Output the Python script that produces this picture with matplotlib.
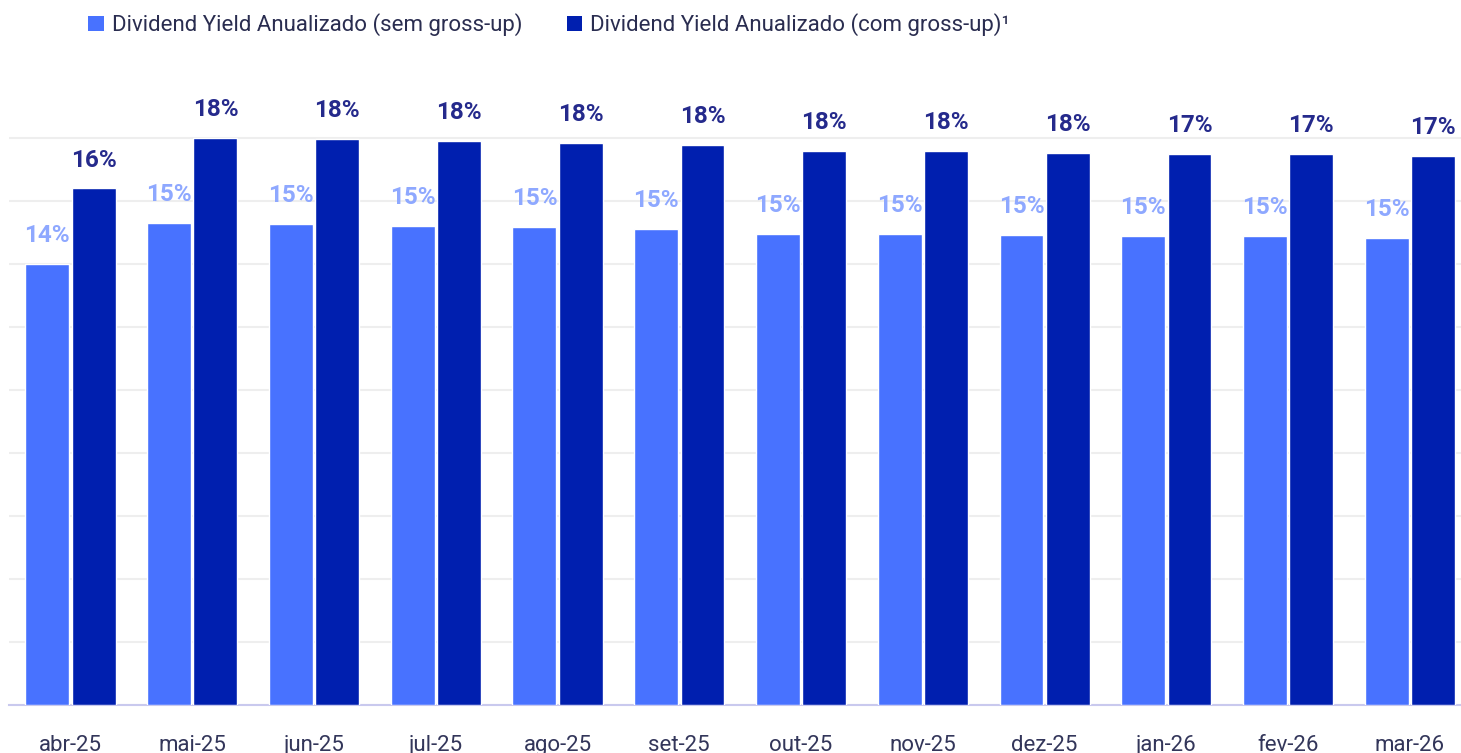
import matplotlib.pyplot as plt
import numpy as np
from matplotlib.patches import Patch

plt.rcParams['font.family'] = ['Roboto', 'DejaVu Sans']

months = ['abr-25', 'mai-25', 'jun-25', 'jul-25', 'ago-25', 'set-25',
          'out-25', 'nov-25', 'dez-25', 'jan-26', 'fev-26', 'mar-26']
sem_gross = [14.0, 15.3, 15.27, 15.21, 15.17, 15.11, 14.95, 14.95, 14.92, 14.89, 14.89, 14.83]
com_gross = [16.4, 18.0, 17.97, 17.9, 17.84, 17.78, 17.59, 17.59, 17.52, 17.49, 17.49, 17.43]
sem_labels = ['14%', '15%', '15%', '15%', '15%', '15%', '15%', '15%', '15%', '15%', '15%', '15%']
com_labels = ['16%', '18%', '18%', '18%', '18%', '18%', '18%', '18%', '18%', '17%', '17%', '17%']

light = '#4872FF'
dark = '#001FAF'
light_txt = '#8EA8FF'
dark_txt = '#252A8C'

fig = plt.figure(figsize=(14.61, 7.53), dpi=100)
ax = fig.add_axes([9 / 1461, 48 / 753, 1 - 9 / 1461, 625 / 753])

x = np.arange(len(months))
w = 0.36
off = 0.19
b1 = ax.bar(x - off, sem_gross, w, color=light, edgecolor='white', linewidth=1, zorder=3)
b2 = ax.bar(x + off, com_gross, w, color=dark, edgecolor='white', linewidth=1, zorder=3)

for rect, lab in zip(b1, sem_labels):
    ax.annotate(lab, (rect.get_x() + rect.get_width() / 2, rect.get_height()),
                xytext=(0, 12), textcoords='offset points', ha='center', va='bottom',
                fontsize=17.5, fontweight='bold', color=light_txt, annotation_clip=False)
for rect, lab in zip(b2, com_labels):
    ax.annotate(lab, (rect.get_x() + rect.get_width() / 2, rect.get_height()),
                xytext=(0, 12), textcoords='offset points', ha='center', va='bottom',
                fontsize=17.5, fontweight='bold', color=dark_txt, annotation_clip=False)

ax.set_xlim(-0.505, 11.42)
ax.set_ylim(0, 19.84)
ax.set_yticks(np.arange(0, 19, 2))
ax.yaxis.grid(True, color='#EEEEEE', linewidth=1.5, zorder=0)
ax.set_axisbelow(True)
ax.tick_params(axis='y', left=False, labelleft=False)
ax.tick_params(axis='x', bottom=False, pad=18, labelsize=16, labelcolor='#33365A')
ax.set_xticks(x)
ax.set_xticklabels(months)
for s in ['top', 'right', 'left']:
    ax.spines[s].set_visible(False)
ax.spines['bottom'].set_color('#C9C9EE')
ax.spines['bottom'].set_linewidth(1.5)

handles = [Patch(facecolor=light, label='Dividend Yield Anualizado (sem gross-up)'),
           Patch(facecolor=dark, label='Dividend Yield Anualizado (com gross-up)\u00b9')]
leg = fig.legend(handles=handles, loc='upper left', bbox_to_anchor=(75 / 1461, 1.0),
                 ncol=2, frameon=False, fontsize=16, handlelength=0.7, handleheight=0.7,
                 handletextpad=0.35, columnspacing=2.0, borderaxespad=0.2)
for t in leg.get_texts():
    t.set_color('#2A2D50')

fig.savefig('out.png', dpi=100)
